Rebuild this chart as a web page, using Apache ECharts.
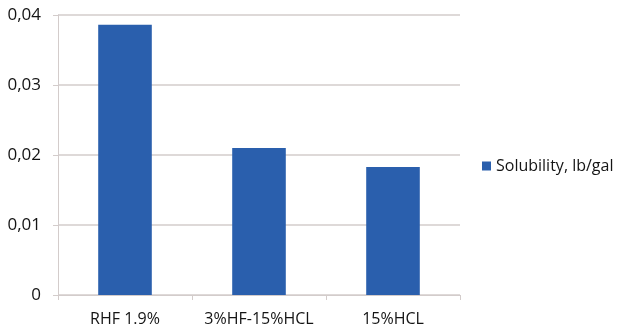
<!DOCTYPE html>
<html>
<head>
<meta charset="utf-8">
<script src="https://cdn.jsdelivr.net/npm/echarts@6/dist/echarts.min.js"></script>
<style>
  html, body { margin: 0; padding: 0; background: #fff; }
  #chart { width: 620px; height: 331px; }
</style>
</head>
<body>
<div id="chart"></div>
<script>
// Solubility by acid system
const categories = ['RHF 1.9%', '3%HF-15%HCL', '15%HCL'];
const solubility = [0.0386, 0.0210, 0.0183];
const seriesName = 'Solubility, lb/gal';
const yTicks = [0, 0.01, 0.02, 0.03, 0.04];

const gridColor = '#D3CCCB';
const textColor = '#141414';
const fontFamily = '"Open Sans", "Liberation Sans", sans-serif';

const chart = echarts.init(document.getElementById('chart'), null, { renderer: 'canvas' });

chart.setOption({
  animation: false,
  backgroundColor: '#ffffff',
  grid: { left: 58, top: 15, width: 402, height: 280, containLabel: false },
  legend: {
    data: [seriesName],
    left: 482,
    top: 158,
    padding: 0,
    itemWidth: 9,
    itemHeight: 9,
    itemGap: 6,
    icon: 'rect',
    textStyle: { color: textColor, fontSize: 16, fontFamily: fontFamily }
  },
  xAxis: {
    type: 'category',
    data: categories,
    axisLine: { lineStyle: { color: gridColor, width: 1 } },
    axisTick: { show: true, alignWithLabel: false, length: 5, lineStyle: { color: gridColor } },
    axisLabel: {
      interval: 0,
      hideOverlap: false,
      color: textColor,
      fontSize: 16,
      fontFamily: fontFamily,
      margin: 16
    }
  },
  yAxis: {
    type: 'value',
    min: yTicks[0],
    max: yTicks[yTicks.length - 1],
    interval: 0.01,
    axisLine: { show: true, lineStyle: { color: gridColor, width: 1 } },
    axisTick: { show: true, length: 5, lineStyle: { color: gridColor } },
    splitLine: { show: true, lineStyle: { color: gridColor, width: 1.5 } },
    axisLabel: {
      color: textColor,
      fontSize: 17,
      fontFamily: fontFamily,
      margin: 17,
      formatter: v => (v === 0 ? '0' : v.toFixed(2).replace('.', ','))
    }
  },
  series: [{
    name: seriesName,
    type: 'bar',
    data: solubility,
    barWidth: '40%',
    itemStyle: { color: '#2A5FAD' }
  }]
});
</script>
</body>
</html>
